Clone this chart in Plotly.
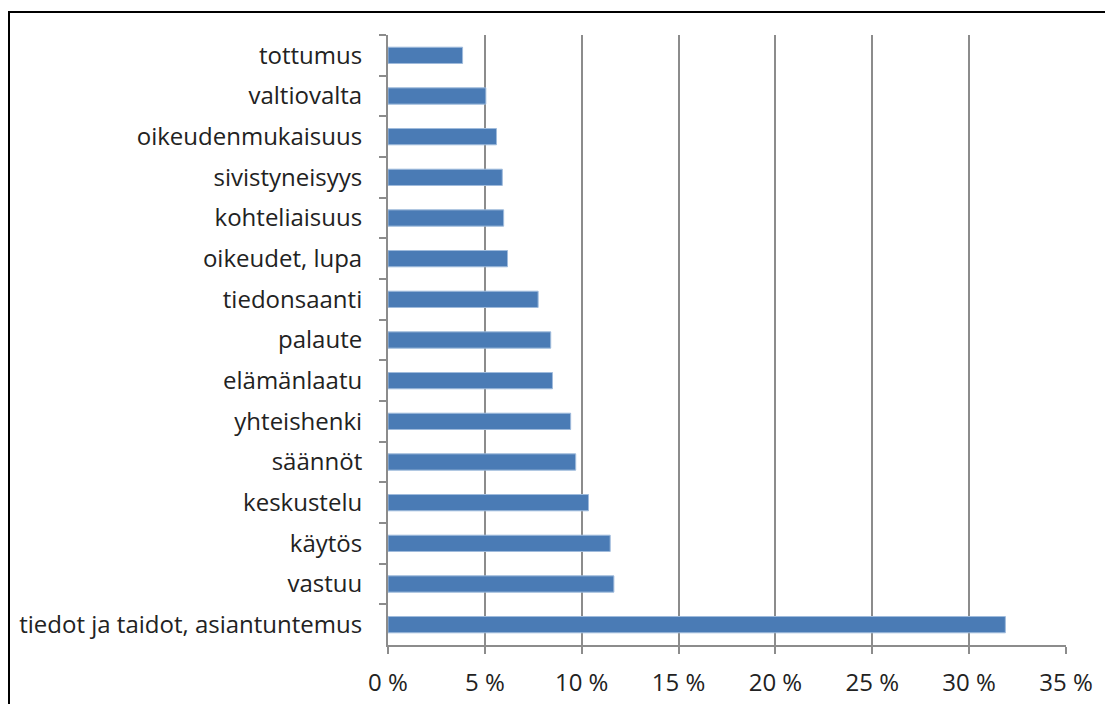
import plotly.graph_objects as go

categories = ["tottumus", "valtiovalta", "oikeudenmukaisuus", "sivistyneisyys",
              "kohteliaisuus", "oikeudet, lupa", "tiedonsaanti", "palaute",
              "elämänlaatu", "yhteishenki", "säännöt", "keskustelu", "käytös",
              "vastuu", "tiedot ja taidot, asiantuntemus"]
values = [3.85, 5.05, 5.6, 5.9, 5.97, 6.17, 7.75, 8.4, 8.49, 9.43, 9.69,
          10.35, 11.47, 11.66, 31.87]
tick_vals = [0, 5, 10, 15, 20, 25, 30, 35]
tick_text = [f"{v} %" for v in tick_vals]

# page is offset by the default 8px body margin
W, H = 1105, 696
L, T = 380, 27
PR, PB = 1058, 637          # plot right / bottom in figure coords
R, B = W - PR, H - PB
pw, ph = PR - L, PB - T

fig = go.Figure(go.Bar(
    x=values, y=categories, orientation="h",
    marker=dict(color="#4a7bb5", line=dict(color="#9fbbdc", width=1)),
    width=0.4,
))

fig.update_layout(
    width=W, height=H,
    margin=dict(l=L, r=R, t=T, b=B, autoexpand=False),
    paper_bgcolor="white", plot_bgcolor="white",
    font=dict(family="Open Sans", size=24, color="#222222"),
    showlegend=False,
    shapes=[dict(type="rect", xref="paper", yref="paper",
                 x0=(1 - L) / pw, x1=(1130 - L) / pw,
                 y0=(PB - 720) / ph, y1=(PB - 4) / ph,
                 line=dict(color="black", width=2), layer="below")],
)

fig.update_xaxes(
    range=[0, 35], tickvals=tick_vals, ticktext=tick_text,
    showgrid=True, gridcolor="#8c8c8c", gridwidth=2,
    showline=True, linecolor="#8c8c8c", linewidth=2,
    ticks="outside", ticklen=7, tickcolor="#8c8c8c", tickwidth=2,
    zeroline=False, tickfont=dict(size=24), ticklabelstandoff=8,
)
fig.update_yaxes(
    autorange="reversed", showline=True, linecolor="#8c8c8c", linewidth=2,
    ticks="outside", ticklen=7, tickcolor="#8c8c8c", tickwidth=2,
    tickson="boundaries", showgrid=False, ticklabelstandoff=19,
    tickfont=dict(size=24),
)

fig.write_html("out.html")
